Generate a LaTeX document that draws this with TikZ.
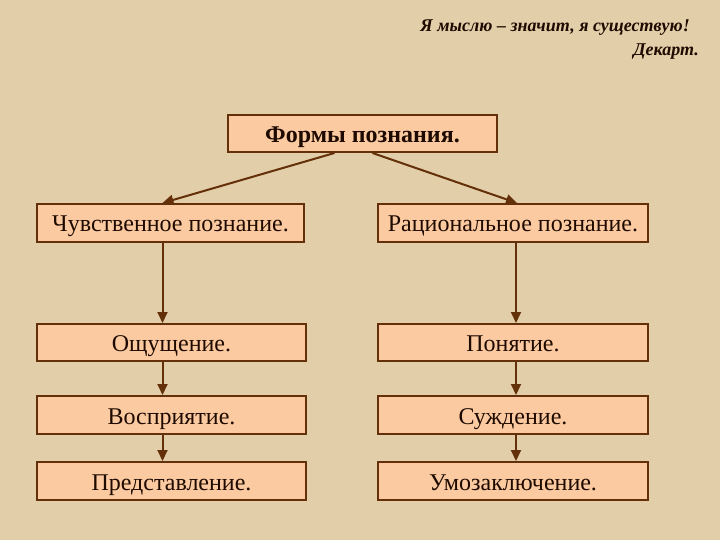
\documentclass[tikz,border=0pt]{standalone}
\usepackage{fontspec}
\setmainfont{Liberation Serif}
\usetikzlibrary{arrows.meta}
\definecolor{parch}{RGB}{226,206,168}
\definecolor{boxfill}{RGB}{251,202,160}
\definecolor{boxline}{RGB}{100,48,10}
\definecolor{txt}{RGB}{30,10,0}
\tikzset{
  fbox/.style={draw=boxline, line width=2pt, fill=boxfill, minimum width=268pt, minimum height=37pt, inner sep=0pt, text height=19pt, text depth=1pt, text=txt, font=\fontsize{24}{26}\selectfont},
  conn/.style={draw=boxline, line width=2pt, -{Triangle[length=11pt,width=10pt]}}
}
\begin{document}
\begin{tikzpicture}[x=1pt,y=-1pt]
\fill[parch] (0,0) rectangle (720,540);
\useasboundingbox (0,0) rectangle (720,540);
\node[anchor=base east, font=\fontsize{18}{20}\selectfont\bfseries\itshape, text=txt, inner sep=0pt] (q1) at (690,32) {Я мыслю – значит, я существую!};
\node[anchor=base east, font=\fontsize{18}{20}\selectfont\bfseries\itshape, text=txt, inner sep=0pt] (q2) at (699,56) {Декарт.};
\node[fbox, minimum width=269pt, font=\fontsize{24}{26}\selectfont\bfseries] (top) at (362.5,133.5) {Формы познания.};
\node[fbox, minimum width=267pt, minimum height=38pt] (l1) at (170.5,223) {Чувственное познание.};
\node[fbox, minimum width=270pt, minimum height=38pt] (r1) at (513,223) {Рациональное познание.};
\node[fbox, minimum width=269pt] (l2) at (171.5,342.5) {Ощущение.};
\node[fbox, minimum width=269pt, minimum height=38pt] (l3) at (171.5,415) {Восприятие.};
\node[fbox, minimum width=269pt, minimum height=38pt] (l4) at (171.5,481) {Представление.};
\node[fbox, minimum width=270pt] (r2) at (513,342.5) {Понятие.};
\node[fbox, minimum width=270pt, minimum height=38pt] (r3) at (513,415) {Суждение.};
\node[fbox, minimum width=270pt, minimum height=38pt] (r4) at (513,481) {Умозаключение.};
\coordinate (tl) at ([xshift=-28pt]top.south);
\coordinate (tr) at ([xshift=10pt]top.south);
\draw[conn] (tl) -- ([xshift=-8pt]l1.north);
\draw[conn] (tr) -- ([xshift=4pt]r1.north);
\draw[conn] ([xshift=-8pt]l1.south) -- ([xshift=-9pt]l2.north);
\draw[conn] ([xshift=-9pt]l2.south) -- ([xshift=-9pt]l3.north);
\draw[conn] ([xshift=-9pt]l3.south) -- ([xshift=-9pt]l4.north);
\draw[conn] ([xshift=3pt]r1.south) -- ([xshift=3pt]r2.north);
\draw[conn] ([xshift=3pt]r2.south) -- ([xshift=3pt]r3.north);
\draw[conn] ([xshift=3pt]r3.south) -- ([xshift=3pt]r4.north);
\end{tikzpicture}
\end{document}
